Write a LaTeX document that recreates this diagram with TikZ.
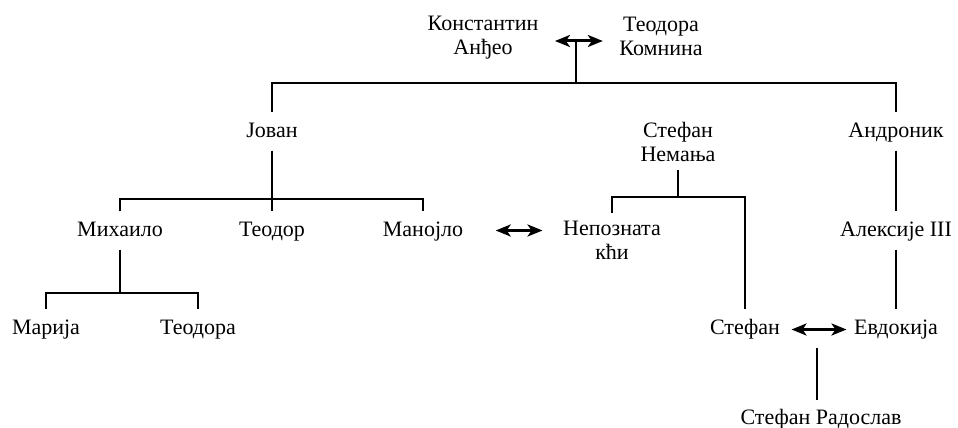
\documentclass[tikz,border=0pt]{standalone}
\usepackage{fontspec}
\setmainfont{Liberation Serif}
\usetikzlibrary{positioning,arrows.meta}

\begin{document}
\begin{tikzpicture}[x=1pt, y=-1pt, line width=1.2pt,
person/.style={inner xsep=3pt, inner ysep=8pt, text height=16pt, text depth=5pt},
pair/.style={align=center, inner xsep=3pt, inner ysep=8pt},
marriage/.style={{Stealth[length=15pt,width=12pt,inset=4pt]}-{Stealth[length=15pt,width=12pt,inset=4pt]}, line width=3pt}]
\tikzstyle{every node}=[font=\fontsize{22}{24}\selectfont]
\useasboundingbox (0,0) rectangle (958,428);
\node[pair] (1) at (483,38) {Константин\\Анђео};
\node[pair] (2) at (661,36) {Теодора\\Комнина};
\node[person] (3) at (272,131.5) {Јован};
\node[pair] (4) at (678,141.5) {Стефан\\Немања};
\node[person] (5) at (896,131.5) {Андроник};
\node[person] (6) at (120,230.5) {Михаило};
\node[person] (7) at (272,230.5) {Теодор};
\node[person] (8) at (423,230.5) {Манојло};
\node[pair] (9) at (612,240.7) {Непозната\\кћи};
\node[person] (10) at (896,230.5) {Алексије III};
\node[person] (11) at (46,328.5) {Марија};
\node[person] (12) at (198,328.5) {Теодора};
\node[person] (13) at (745,328.5) {Стефан};
\node[person] (14) at (896,328.5) {Евдокија};
\node[person] (15) at (821,419) {Стефан Радослав};
% parents
\draw[marriage, shorten <=13pt, shorten >=13pt] ([yshift=-3pt]1.east) -- coordinate[pos=0.46] (m1) ([yshift=-3pt]1.east -| 2.west);
\coordinate (b1) at (m1 |- 0,83);
\draw (m1) -- (b1);
\draw (3.north) |- (b1) -| (5.north);
% Jovan
\coordinate (b2) at (3 |- 0,199);
\draw (3.south) -- (7.north);
\draw (6.north) |- (b2) -| (8.north);
% Nemanja
\coordinate (b3) at (4 |- 0,197);
\draw (4.south) -- (b3);
\draw (9.north) |- (b3) -| (13.north);
\draw[marriage, shorten <=29pt, shorten >=17pt] (8.east) -- (8.east -| 9.west);
% Andronik
\draw (5.south) -- (10.north);
\draw (10.south) -- (14.north);
% Mihailo
\coordinate (b4) at (6 |- 0,293);
\draw (6.south) -- (b4);
\draw (11.north) |- (b4) -| (12.north);
% Stefan
\draw[marriage, shorten <=8pt, shorten >=4pt] ([yshift=-1pt]13.east) -- coordinate (m2) ([yshift=-1pt]14.west);
\draw[shorten <=18pt] (m2) -- (m2 |- 15.north);
\end{tikzpicture}
\end{document}
